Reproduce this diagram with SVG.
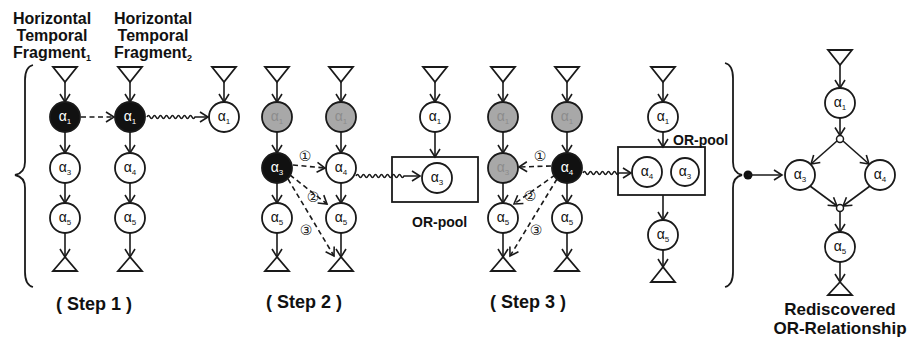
<svg xmlns="http://www.w3.org/2000/svg" width="915" height="341" viewBox="0 0 915 341">
<style>
.n{fill:#fff;stroke:#1a1a1a;stroke-width:1.8}
.b{fill:#111}
.g{fill:#a8a8a8}
.tri{fill:#fff;stroke:#1a1a1a;stroke-width:1.8;stroke-linejoin:miter}
.box{fill:none;stroke:#1a1a1a;stroke-width:1.8}
.e{fill:none;stroke:#1a1a1a;stroke-width:1.6;marker-end:url(#ah)}
.d{stroke-dasharray:5 3.5}
.a{font-family:"Liberation Sans",Arial,sans-serif;font-size:14px;fill:#111;text-anchor:middle}
.a tspan{font-size:8px}
.w{fill:#fff}
.gt{fill:#8c8c8c}
.h{font-family:"Liberation Sans",Arial,sans-serif;font-size:16px;font-weight:bold;fill:#111;text-anchor:middle}
.h tspan{font-size:9px}
.st{font-family:"Liberation Sans",Arial,sans-serif;font-size:18px;font-weight:bold;fill:#111;text-anchor:middle}
.rd{font-family:"Liberation Sans",Arial,sans-serif;font-size:17px;font-weight:bold;fill:#111;text-anchor:middle}
.op{font-family:"Liberation Sans",Arial,sans-serif;font-size:14px;font-weight:bold;fill:#111}
.num{font-family:"DejaVu Sans",sans-serif;font-size:14px;fill:#222;text-anchor:middle}
.br{fill:none;stroke:#1a1a1a;stroke-width:1.8}
</style>
<defs>
<marker id="ah" viewBox="-10 -7 12 14" markerWidth="12" markerHeight="14" refX="0" refY="0" orient="auto" markerUnits="userSpaceOnUse">
<path d="M-8,-5 L0,0 L-8,5" fill="none" stroke="#1a1a1a" stroke-width="1.6"/>
</marker>
</defs>

<!-- headings -->
<g id="heading1">
<text class="h" x="52" y="24">Horizontal</text>
<text class="h" x="52" y="41">Temporal</text>
<text class="h" x="52" y="58">Fragment<tspan dy="3">1</tspan></text>
</g>
<g id="heading2">
<text class="h" x="153" y="24">Horizontal</text>
<text class="h" x="153" y="41">Temporal</text>
<text class="h" x="153" y="58">Fragment<tspan dy="3">2</tspan></text>
</g>

<!-- braces -->
<g id="brace-left">
<path class="br" d="M33,65 Q25,67 25,80 L25,162 Q25,173 15,175 Q25,177 25,188 L25,272 Q25,285 33,287"/>
</g>
<g id="brace-right">
<path class="br" d="M725,63 Q733,65 733,78 L733,162 Q733,173 742,175 Q733,177 733,188 L733,272 Q733,285 725,287"/>
</g>

<!-- connectors -->
<g id="connectors">
<line class="e" x1="65" y1="82" x2="65" y2="102"/>
<line class="e" x1="65" y1="132" x2="65" y2="153"/>
<line class="e" x1="65" y1="183" x2="65" y2="203"/>
<line class="e" x1="65" y1="233" x2="65" y2="257"/>
<line class="e" x1="130" y1="82" x2="130" y2="102"/>
<line class="e" x1="130" y1="132" x2="130" y2="153"/>
<line class="e" x1="130" y1="183" x2="130" y2="203"/>
<line class="e" x1="130" y1="233" x2="130" y2="257"/>
<line class="e" x1="224" y1="82" x2="224" y2="102"/>
<line class="e d" x1="81" y1="117" x2="114" y2="117"/>
<path class="e" d="M147,117 q1.5,-3 3,0 t3,0 t3,0 t3,0 t3,0 t3,0 t3,0 t3,0 t3,0 t3,0 t3,0 t3,0 t3,0 t3,0 t3,0 t3,0 L208,117"/>
<line class="e" x1="277" y1="82" x2="277" y2="102"/>
<line class="e" x1="277" y1="132" x2="277" y2="153"/>
<line class="e" x1="277" y1="183" x2="277" y2="203"/>
<line class="e" x1="277" y1="233" x2="277" y2="257"/>
<line class="e" x1="341" y1="82" x2="341" y2="102"/>
<line class="e" x1="341" y1="132" x2="341" y2="153"/>
<line class="e" x1="341" y1="183" x2="341" y2="203"/>
<line class="e" x1="341" y1="233" x2="341" y2="257"/>
<line class="e d" x1="293" y1="165" x2="325" y2="168"/>
<line class="e d" x1="290" y1="175" x2="327" y2="204"/>
<line class="e d" x1="288" y1="179" x2="334" y2="256"/>
<path class="e" d="M356,176 q1.5,-3 3,0 t3,0 t3,0 t3,0 t3,0 t3,0 t3,0 t3,0 t3,0 t3,0 t3,0 t3,0 t3,0 t3,0 t3,0 t3,0 L420,176"/>
<line class="e" x1="435" y1="82" x2="435" y2="102"/>
<line class="e" x1="435" y1="132" x2="435" y2="157"/>
<line class="e" x1="503" y1="82" x2="503" y2="102"/>
<line class="e" x1="503" y1="132" x2="503" y2="153"/>
<line class="e" x1="503" y1="183" x2="503" y2="203"/>
<line class="e" x1="503" y1="233" x2="503" y2="257"/>
<line class="e" x1="567" y1="82" x2="567" y2="102"/>
<line class="e" x1="567" y1="132" x2="567" y2="153"/>
<line class="e" x1="567" y1="183" x2="567" y2="203"/>
<line class="e" x1="567" y1="233" x2="567" y2="257"/>
<line class="e d" x1="551" y1="166" x2="519" y2="167"/>
<line class="e d" x1="555" y1="175" x2="514" y2="204"/>
<line class="e d" x1="557" y1="179" x2="510" y2="256"/>
<path class="e" d="M583,173 q1.5,-3 3,0 t3,0 t3,0 t3,0 t3,0 t3,0 t3,0 t3,0 t3,0 t3,0 t3,0 t3,0 L631,173"/>
<line class="e" x1="663" y1="82" x2="663" y2="102"/>
<line class="e" x1="663" y1="132" x2="663" y2="147"/>
<line class="e" x1="663" y1="195" x2="663" y2="220"/>
<line class="e" x1="663" y1="250" x2="663" y2="267"/>
<circle cx="748" cy="175" r="4.5" fill="#111"/>
<line class="e" x1="748" y1="175" x2="782" y2="175"/>
<line class="e" x1="840" y1="65" x2="840" y2="88"/>
<line class="e" x1="840" y1="118" x2="840" y2="135.5"/>
<line class="e" x1="837" y1="141" x2="811" y2="164"/>
<line class="e" x1="843" y1="141" x2="869" y2="164"/>
<line class="e" x1="810" y1="186" x2="837" y2="206"/>
<line class="e" x1="870" y1="186" x2="843" y2="206"/>
<line class="e" x1="840" y1="211.5" x2="840" y2="232"/>
<line class="e" x1="840" y1="262" x2="840" y2="282"/>
</g>

<!-- circled numbers -->
<g id="labels-step2">
<text class="num" x="305" y="161">①</text>
<text class="num" x="313" y="202">②</text>
<text class="num" x="306" y="235">③</text>
</g>
<g id="labels-step3">
<text class="num" x="540" y="161">①</text>
<text class="num" x="530" y="201">②</text>
<text class="num" x="536" y="235">③</text>
</g>

<g id="c1-start"><polygon class="tri" points="53,67 77,67 65,82"/></g>
<g id="c1-a1"><circle class="n b" cx="65" cy="117" r="15"/><text class="a w" x="65" y="121">α<tspan dy="3">1</tspan></text></g>
<g id="c1-a3"><circle class="n" cx="65" cy="168" r="15"/><text class="a" x="65" y="172">α<tspan dy="3">3</tspan></text></g>
<g id="c1-a5"><circle class="n" cx="65" cy="218" r="15"/><text class="a" x="65" y="222">α<tspan dy="3">5</tspan></text></g>
<g id="c1-end"><polygon class="tri" points="65,257 53,271 77,271"/></g>

<g id="c2-start"><polygon class="tri" points="118,67 142,67 130,82"/></g>
<g id="c2-a1"><circle class="n b" cx="130" cy="117" r="15"/><text class="a w" x="130" y="121">α<tspan dy="3">1</tspan></text></g>
<g id="c2-a4"><circle class="n" cx="130" cy="168" r="15"/><text class="a" x="130" y="172">α<tspan dy="3">4</tspan></text></g>
<g id="c2-a5"><circle class="n" cx="130" cy="218" r="15"/><text class="a" x="130" y="222">α<tspan dy="3">5</tspan></text></g>
<g id="c2-end"><polygon class="tri" points="130,257 118,271 142,271"/></g>

<g id="c3-start"><polygon class="tri" points="212,67 236,67 224,82"/></g>
<g id="c3-a1"><circle class="n" cx="224" cy="117" r="15"/><text class="a" x="224" y="121">α<tspan dy="3">1</tspan></text></g>

<g id="s2a-start"><polygon class="tri" points="265,67 289,67 277,82"/></g>
<g id="s2a-a1"><circle class="n g" cx="277" cy="117" r="15"/><text class="a gt" x="277" y="121">α<tspan dy="3">1</tspan></text></g>
<g id="s2a-a3"><circle class="n b" cx="277" cy="168" r="15"/><text class="a w" x="277" y="172">α<tspan dy="3">3</tspan></text></g>
<g id="s2a-a5"><circle class="n" cx="277" cy="218" r="15"/><text class="a" x="277" y="222">α<tspan dy="3">5</tspan></text></g>
<g id="s2a-end"><polygon class="tri" points="277,257 265,271 289,271"/></g>

<g id="s2b-start"><polygon class="tri" points="329,67 353,67 341,82"/></g>
<g id="s2b-a1"><circle class="n g" cx="341" cy="117" r="15"/><text class="a gt" x="341" y="121">α<tspan dy="3">1</tspan></text></g>
<g id="s2b-a4"><circle class="n" cx="341" cy="168" r="15"/><text class="a" x="341" y="172">α<tspan dy="3">4</tspan></text></g>
<g id="s2b-a5"><circle class="n" cx="341" cy="218" r="15"/><text class="a" x="341" y="222">α<tspan dy="3">5</tspan></text></g>
<g id="s2b-end"><polygon class="tri" points="341,257 329,271 353,271"/></g>

<g id="s2c-start"><polygon class="tri" points="423,67 447,67 435,82"/></g>
<g id="s2c-a1"><circle class="n" cx="435" cy="117" r="15"/><text class="a" x="435" y="121">α<tspan dy="3">1</tspan></text></g>
<g id="s2-orpool">
<rect class="box" x="392" y="157" width="86" height="45"/>
<circle class="n" cx="437" cy="178" r="15"/><text class="a" x="437" y="182">α<tspan dy="3">3</tspan></text>
<text class="op" x="412" y="227">OR-pool</text>
</g>

<g id="s3d-start"><polygon class="tri" points="491,67 515,67 503,82"/></g>
<g id="s3d-a1"><circle class="n g" cx="503" cy="117" r="15"/><text class="a gt" x="503" y="121">α<tspan dy="3">1</tspan></text></g>
<g id="s3d-a3"><circle class="n g" cx="503" cy="168" r="15"/><text class="a gt" x="503" y="172">α<tspan dy="3">3</tspan></text></g>
<g id="s3d-a5"><circle class="n" cx="503" cy="218" r="15"/><text class="a" x="503" y="222">α<tspan dy="3">5</tspan></text></g>
<g id="s3d-end"><polygon class="tri" points="503,257 491,271 515,271"/></g>

<g id="s3e-start"><polygon class="tri" points="555,67 579,67 567,82"/></g>
<g id="s3e-a1"><circle class="n g" cx="567" cy="117" r="15"/><text class="a gt" x="567" y="121">α<tspan dy="3">1</tspan></text></g>
<g id="s3e-a4"><circle class="n b" cx="567" cy="168" r="15"/><text class="a w" x="567" y="172">α<tspan dy="3">4</tspan></text></g>
<g id="s3e-a5"><circle class="n" cx="567" cy="218" r="15"/><text class="a" x="567" y="222">α<tspan dy="3">5</tspan></text></g>
<g id="s3e-end"><polygon class="tri" points="567,257 555,271 579,271"/></g>

<g id="s3f-start"><polygon class="tri" points="651,67 675,67 663,82"/></g>
<g id="s3f-a1"><circle class="n" cx="663" cy="117" r="15"/><text class="a" x="663" y="121">α<tspan dy="3">1</tspan></text></g>
<g id="s3-orpool">
<rect class="box" x="618" y="147" width="87" height="48"/>
<circle class="n" cx="647" cy="172" r="15"/><text class="a" x="647" y="176">α<tspan dy="3">4</tspan></text>
<circle class="n" cx="685" cy="172" r="14"/><text class="a" x="685" y="176">α<tspan dy="3">3</tspan></text>
<text class="op" x="673" y="145">OR-pool</text>
</g>
<g id="s3f-a5"><circle class="n" cx="663" cy="235" r="15"/><text class="a" x="663" y="239">α<tspan dy="3">5</tspan></text></g>
<g id="s3f-end"><polygon class="tri" points="663,267 651,282 675,282"/></g>

<g id="f-start"><polygon class="tri" points="828,50 852,50 840,65"/></g>
<g id="f-a1"><circle class="n" cx="840" cy="103" r="15"/><text class="a" x="840" y="107">α<tspan dy="3">1</tspan></text></g>
<g id="f-j1"><circle class="n" cx="840" cy="139" r="3.5" style="stroke-width:1.5"/></g>
<g id="f-a3"><circle class="n" cx="800" cy="175" r="15"/><text class="a" x="800" y="179">α<tspan dy="3">3</tspan></text></g>
<g id="f-a4"><circle class="n" cx="880" cy="175" r="15"/><text class="a" x="880" y="179">α<tspan dy="3">4</tspan></text></g>
<g id="f-j2"><circle class="n" cx="840" cy="208" r="3.5" style="stroke-width:1.5"/></g>
<g id="f-a5"><circle class="n" cx="840" cy="247" r="15"/><text class="a" x="840" y="251">α<tspan dy="3">5</tspan></text></g>
<g id="f-end"><polygon class="tri" points="840,282 828,295 852,295"/></g>

<text class="st" x="94" y="310">( Step 1 )</text>
<text class="st" x="304" y="308">( Step 2 )</text>
<text class="st" x="528" y="308">( Step 3 )</text>
<text class="rd" x="840" y="315">Rediscovered</text>
<text class="rd" x="840" y="334">OR-Relationship</text>
</svg>
